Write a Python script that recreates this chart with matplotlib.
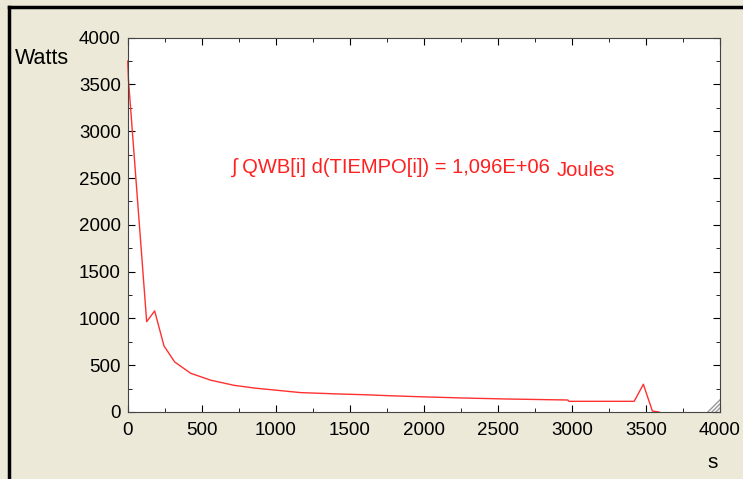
import matplotlib
matplotlib.use("Agg")
import matplotlib.pyplot as plt
from matplotlib.lines import Line2D
from matplotlib.ticker import MultipleLocator

plt.rcParams['font.family'] = ['Liberation Sans', 'DejaVu Sans']

# tiempo (s) and heat flow (W)
tiempo = [0, 5, 128, 182, 245, 317, 425, 560, 718, 860, 989, 1169, 1434, 1588,
          1768, 1953, 2252, 2554, 2973, 2980, 3421, 3483, 3544, 3589]
qwb = [3750, 3550, 965, 1080, 706, 535, 414, 340, 285, 255, 235, 207, 192, 185,
       174, 164, 150, 139, 128, 114, 114, 296, 10, 0]

bg = '#ECE9D8'
fig = plt.figure(figsize=(7.43, 4.79), dpi=100, facecolor=bg)
ax = fig.add_axes([0.1719, 0.1399, 0.797, 0.7814])
ax.plot(tiempo, qwb, color='#FF3030', lw=1, clip_on=False)

ax.set_xlim(0, 4000)
ax.set_ylim(0, 4000)
ax.xaxis.set_major_locator(MultipleLocator(500))
ax.xaxis.set_minor_locator(MultipleLocator(250))
ax.yaxis.set_major_locator(MultipleLocator(500))
ax.yaxis.set_minor_locator(MultipleLocator(250))
ax.tick_params(which='both', direction='in', top=True, right=True, labelsize=13.5)
ax.tick_params(which='major', length=5)
ax.tick_params(which='minor', length=3)
ax.tick_params(axis='x', pad=7)
ax.tick_params(axis='y', pad=5)
for s in ax.spines.values():
    s.set_color('#444444')

fig.text(15 / 743, 1 - 58 / 479, 'Watts', fontsize=15.5, va='center', ha='left')
fig.text(713 / 743, 1 - 462 / 479, 's', fontsize=15, va='center', ha='center')

fig.text(232 / 743, 1 - 167 / 479, u'\u222b QWB[i] d(TIEMPO[i]) = 1,096E+06',
         fontsize=14.5, color='#FF2020', va='center', ha='left')
fig.text(557 / 743, 1 - 171 / 479, 'Joules', fontsize=14.5, color='#FF2020',
         va='center', ha='left')

# resize grip in the corner
for k in range(1, 4):
    d = 4.0 * k / 592
    ax.plot([1 - d, 1], [0, d * 592 / 374], transform=ax.transAxes,
            color='#999999', lw=1, clip_on=False)

# window border top / left
fig.add_artist(Line2D([9 / 743, 1], [1 - 7 / 479] * 2, color='black', lw=2.5))
fig.add_artist(Line2D([9 / 743] * 2, [0, 1 - 7 / 479], color='black', lw=2.5))

fig.savefig('out.png', dpi=100, facecolor=bg)
